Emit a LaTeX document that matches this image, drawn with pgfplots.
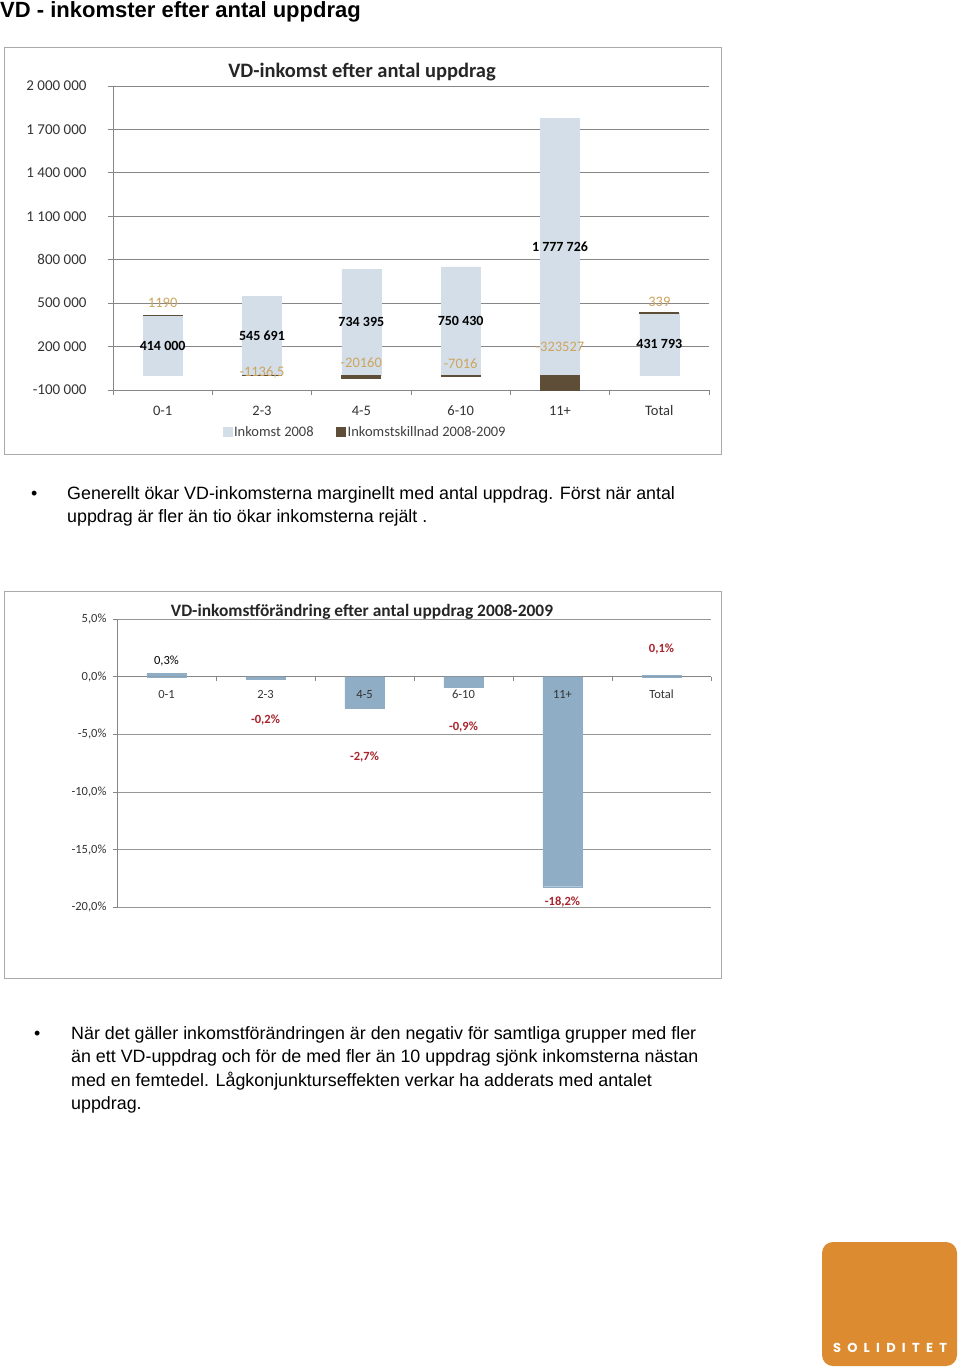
\documentclass[border=0pt]{standalone}
\usepackage{pgfplots}
\pgfplotsset{compat=1.18}
\usepackage{fontspec}
\setmainfont{Liberation Sans}
\newfontfamily\carlito{Carlito}
\newfontfamily\logofont{Poppins}
\definecolor{lightbar}{RGB}{211,222,232}
\definecolor{darkbar}{RGB}{94,78,56}
\definecolor{tanlbl}{RGB}{205,165,95}
\definecolor{barblue}{RGB}{143,173,197}
\definecolor{redlbl}{RGB}{168,36,44}
\definecolor{gridgray}{RGB}{134,134,134}
\definecolor{gridgray2}{RGB}{150,150,150}
\definecolor{framegray}{RGB}{170,170,170}
\definecolor{logoorange}{RGB}{221,139,49}
\begin{document}
\begin{tikzpicture}
\path[use as bounding box, fill=white] (0pt,0pt) rectangle (960pt,-1369pt);
% heading
\node[anchor=base west, inner sep=0pt] at (0pt,-17pt) {\fontsize{22}{26}\selectfont\bfseries VD - inkomster efter antal uppdrag};
% chart frames
\draw[framegray, line width=1pt] (4pt,-47pt) rectangle (721pt,-454pt);
\draw[framegray, line width=1pt] (4pt,-591pt) rectangle (721pt,-978pt);
% titles
\node[text=black!85] at (362pt,-72pt) {\carlito\bfseries\fontsize{20.5}{22}\selectfont VD-inkomst efter antal uppdrag};
\node[text=black!85] at (362pt,-612pt) {\carlito\bfseries\fontsize{17.4}{19}\selectfont VD-inkomstförändring efter antal uppdrag 2008-2009};

% ---------- chart 1 ----------
\begin{axis}[
  at={(113pt,-390pt)}, anchor=south west,
  scale only axis, width=596pt, height=304pt,
  ybar, bar width=39pt,
  xmin=-0.5, xmax=5.5, ymin=-100000, ymax=2000000,
  ytick={-100000,200000,500000,800000,1100000,1400000,1700000,2000000},
  yticklabels={-100 000,200 000,500 000,800 000,1 100 000,1 400 000,1 700 000,2 000 000},
  scaled y ticks=false,
  xtick={-0.5,0.5,1.5,2.5,3.5,4.5,5.5}, xticklabels={},
  extra x ticks={0,1,2,3,4,5},
  extra x tick labels={0-1,2-3,4-5,6-10,11+,Total},
  extra x tick style={major tick length=0pt, grid=none},
  axis lines=left, axis line style={-, draw=gridgray, line width=0.8pt},
  ymajorgrids, grid style={draw=gridgray, line width=0.8pt},
  tick align=outside, major tick length=5pt, tick style={draw=gridgray, line width=0.8pt},
  tick label style={font=\carlito\fontsize{14.5}{16}\selectfont, text=black!80},
  yticklabel style={xshift=-18pt, font=\carlito\fontsize{15}{16}\selectfont},
  xticklabel style={yshift=-13.5pt, text height=1.6ex, text depth=0.3ex},
  legend style={at={(0.423,-0.138)}, anchor=center, draw=none, fill=none,
    legend columns=-1, font=\carlito\fontsize{14.5}{16}\selectfont, text=black!75,
    /tikz/every even column/.append style={column sep=20pt}},
  legend image code/.code={\fill[#1] (0pt,-4.5pt) rectangle (9pt,4.5pt);},
]
\addplot[bar shift=0pt, fill=lightbar, draw=lightbar] coordinates {(0,414000) (1,545691) (2,734395) (3,750430) (4,1777726) (5,431793)};
\addlegendentry{Inkomst 2008}
\addplot[bar shift=0pt, fill=darkbar, draw=darkbar, line width=1pt] coordinates {(1,-1136.5) (2,-20160) (3,-7016) (4,-323527)};
\addlegendentry{Inkomstskillnad 2008-2009}
% value labels
\node[font=\carlito\bfseries\fontsize{14}{16}\selectfont, text=black] at (axis cs:0,207000) {414 000};
\node[font=\carlito\bfseries\fontsize{14}{16}\selectfont, text=black] at (axis cs:1,272846) {545 691};
\node[font=\carlito\bfseries\fontsize{14}{16}\selectfont, text=black] at (axis cs:2,367198) {734 395};
\node[font=\carlito\bfseries\fontsize{14}{16}\selectfont, text=black] at (axis cs:3,375215) {750 430};
\node[font=\carlito\bfseries\fontsize{14}{16}\selectfont, text=black] at (axis cs:4,888863) {1 777 726};
\node[font=\carlito\bfseries\fontsize{14}{16}\selectfont, text=black] at (axis cs:5,215897) {431 793};
\node[font=\carlito\fontsize{14.5}{16}\selectfont, text=tanlbl] at (axis cs:0,505000) {1190};
\node[font=\carlito\fontsize{14.5}{16}\selectfont, text=tanlbl] at (axis cs:1,24000) {-1136,5};
\node[font=\carlito\fontsize{14.5}{16}\selectfont, text=tanlbl] at (axis cs:2,89000) {-20160};
\node[font=\carlito\fontsize{14.5}{16}\selectfont, text=tanlbl] at (axis cs:3,82000) {-7016};
\node[font=\carlito\fontsize{14.5}{16}\selectfont, text=tanlbl] at (axis cs:4,201000) {-323527};
\node[font=\carlito\fontsize{14.5}{16}\selectfont, text=tanlbl] at (axis cs:5,512000) {339};
\end{axis}
% overlay: positive differences stacked on top of 2008 income
\begin{axis}[
  at={(113pt,-390pt)}, anchor=south west,
  scale only axis, width=596pt, height=304pt,
  hide axis, ybar stacked, bar width=39pt,
  xmin=-0.5, xmax=5.5, ymin=-100000, ymax=2000000,
]
\addplot[fill=none, draw=none] coordinates {(0,414000) (5,431793)};
\addplot[fill=darkbar, draw=darkbar, line width=1pt] coordinates {(0,1190) (5,339)};
\end{axis}

% ---------- chart 2 ----------
\begin{axis}[
  at={(117pt,-907.5pt)}, anchor=south west,
  scale only axis, width=594pt, height=288.5pt,
  ybar, bar width=39pt,
  xmin=-0.5, xmax=5.5, ymin=-20, ymax=5,
  ytick={-20,-15,-10,-5,0,5},
  yticklabels={{-20,0\%},{-15,0\%},{-10,0\%},{-5,0\%},{0,0\%},{5,0\%}},
  xtick={-0.5,0.5,1.5,2.5,3.5,4.5,5.5}, xticklabels={},
  axis x line=middle, axis y line=left,
  hide obscured x ticks=false, hide obscured y ticks=false,
  axis line style={-, draw=gridgray, line width=0.8pt},
  ymajorgrids, grid style={draw=gridgray2, line width=0.8pt},
  tick align=outside, major tick length=4pt, tick style={draw=gridgray, line width=0.8pt},
  tick label style={font=\carlito\fontsize{12.5}{14}\selectfont, text=black!80},
  yticklabel style={xshift=-3pt},
]
\addplot[bar shift=0pt, fill=barblue, draw=barblue] coordinates {(0,0.3) (1,-0.2) (2,-2.7) (3,-0.9) (4,-18.2) (5,0.1)};
\node[font=\carlito\fontsize{12.5}{14}\selectfont, text=black] at (axis cs:0,1.39) {0,3\%};
\node[font=\carlito\bfseries\fontsize{12.5}{14}\selectfont, text=redlbl] at (axis cs:1,-3.75) {-0,2\%};
\node[font=\carlito\bfseries\fontsize{12.5}{14}\selectfont, text=redlbl] at (axis cs:2,-6.95) {-2,7\%};
\node[font=\carlito\bfseries\fontsize{12.5}{14}\selectfont, text=redlbl] at (axis cs:3,-4.33) {-0,9\%};
\node[font=\carlito\bfseries\fontsize{12.5}{14}\selectfont, text=redlbl] at (axis cs:4,-19.53) {-18,2\%};
\node[font=\carlito\bfseries\fontsize{12.5}{14}\selectfont, text=redlbl] at (axis cs:5,2.41) {0,1\%};
\end{axis}
% overlay: category labels drawn over the bars
\begin{axis}[
  at={(117pt,-907.5pt)}, anchor=south west,
  scale only axis, width=594pt, height=288.5pt,
  xmin=-0.5, xmax=5.5, ymin=-20, ymax=5,
  axis x line=middle, axis y line=none, axis line style={draw=none},
  hide obscured x ticks=false,
  xtick={0,1,2,3,4,5}, xticklabels={0-1,2-3,4-5,6-10,11+,Total},
  ytick=\empty, major tick length=0pt, tick style={draw=none},
  tick label style={font=\carlito\fontsize{12.5}{14}\selectfont, text=black!80},
  xticklabel style={yshift=-9.5pt, text height=1.6ex, text depth=0.3ex},
]
\addplot[draw=none, mark=none, forget plot] coordinates {(0,0) (5,0)};
\end{axis}

% ---------- body text ----------
\begin{scope}[every node/.style={anchor=base west, inner sep=0pt, font=\fontsize{17.85}{23.5}\selectfont}]
\node at (31pt,-499pt) {•};
\node at (67pt,-499pt) {Generellt ökar VD-inkomsterna marginellt med antal uppdrag. Först när antal};
\node at (67pt,-522.5pt) {uppdrag är fler än tio ökar inkomsterna rejält .};
\node at (34pt,-1039pt) {•};
\node at (71pt,-1039pt) {När det gäller inkomstförändringen är den negativ för samtliga grupper med fler};
\node at (71pt,-1062.5pt) {än ett VD-uppdrag och för de med fler än 10 uppdrag sjönk inkomsterna nästan};
\node at (71pt,-1086pt) {med en femtedel. Lågkonjunkturseffekten verkar ha adderats med antalet};
\node at (71pt,-1109.5pt) {uppdrag.};
\end{scope}

% ---------- logo ----------
\fill[logoorange, rounded corners=11pt] (822pt,-1242pt) rectangle (957pt,-1366pt);
\node[anchor=base, inner sep=0pt, text=white] at (890pt,-1352.5pt) {\logofont\bfseries\fontsize{13}{14}\selectfont\makebox[114pt][s]{S\hfill O\hfill L\hfill I\hfill D\hfill I\hfill T\hfill E\hfill T}};
\end{tikzpicture}
\end{document}
